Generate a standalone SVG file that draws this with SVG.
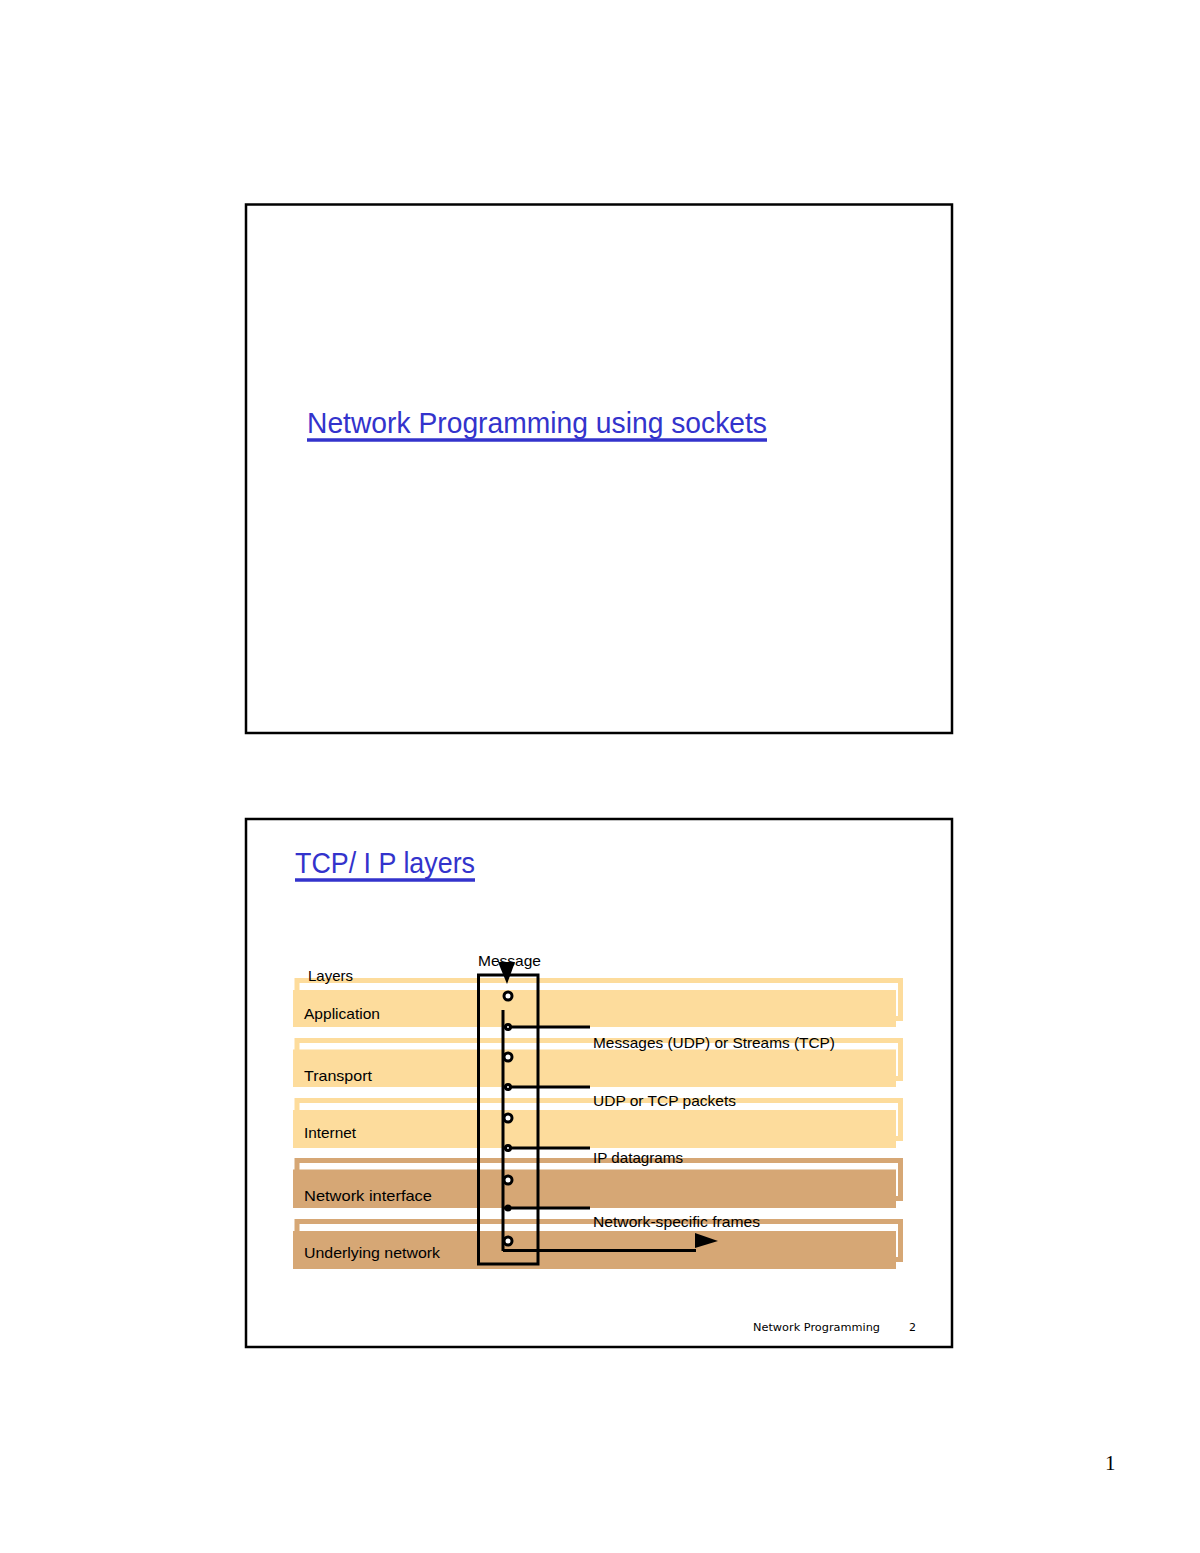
<svg xmlns="http://www.w3.org/2000/svg" width="1200" height="1553" viewBox="0 0 1200 1553">
<style>
.slide{fill:none;stroke:#000;stroke-width:2.5}
.title{font-family:"Liberation Sans",Arial,sans-serif;font-size:29px;fill:#3333cc}
.ul{stroke:#3333cc;stroke-width:3.5}
.lbl{font-family:"Liberation Sans",Arial,sans-serif;font-size:15px;fill:#000}
.outL{fill:#fff;stroke:#fddc9c;stroke-width:5}
.fillL{fill:#fddc9c}
.outD{fill:#fff;stroke:#d6a775;stroke-width:5}
.fillD{fill:#d6a775}
.ln{stroke:#000;stroke-width:3;fill:none}
.circ{fill:#fff;stroke:#000;stroke-width:3}
</style>
<rect width="1200" height="1553" fill="#fff"/>
<g id="slide1">
<rect class="slide" x="246" y="204.5" width="706" height="528.5"/>
<text class="title" x="307" y="433" textLength="460" lengthAdjust="spacingAndGlyphs">Network Programming using sockets</text>
<line class="ul" x1="307" y1="440" x2="767" y2="440"/>
</g>
<g id="slide2">
<rect class="slide" x="246" y="819" width="706" height="528"/>
<text class="title" x="295" y="873" textLength="180" lengthAdjust="spacingAndGlyphs">TCP/ I P layers</text>
<line class="ul" x1="295" y1="880" x2="475" y2="880"/>
</g>
<g id="band-application">
<rect class="outL" x="297" y="980.5" width="603.5" height="38"/>
<rect class="fillL" x="293" y="990" width="603" height="37"/>
<text class="lbl" x="304" y="1019" textLength="76" lengthAdjust="spacingAndGlyphs">Application</text>
</g>
<g id="band-transport">
<rect class="outL" x="297" y="1040.5" width="603.5" height="38"/>
<rect class="fillL" x="293" y="1049.5" width="603" height="37.5"/>
<text class="lbl" x="304" y="1081" textLength="68" lengthAdjust="spacingAndGlyphs">Transport</text>
</g>
<g id="band-internet">
<rect class="outL" x="297" y="1100.5" width="603.5" height="38"/>
<rect class="fillL" x="293" y="1110" width="603" height="38"/>
<text class="lbl" x="304" y="1138" textLength="52" lengthAdjust="spacingAndGlyphs">Internet</text>
</g>
<g id="band-network-interface">
<rect class="outD" x="297" y="1160.5" width="603.5" height="38"/>
<rect class="fillD" x="293" y="1169.5" width="603" height="38.5"/>
<text class="lbl" x="304" y="1201" textLength="128" lengthAdjust="spacingAndGlyphs">Network  interface</text>
</g>
<g id="band-underlying">
<rect class="outD" x="297" y="1221.5" width="603.5" height="38"/>
<rect class="fillD" x="293" y="1231" width="603" height="38"/>
<text class="lbl" x="304" y="1258" textLength="136" lengthAdjust="spacingAndGlyphs">Underlying network</text>
</g>
<text class="lbl" x="308" y="981" textLength="45" lengthAdjust="spacingAndGlyphs">Layers</text>
<g id="message-column">
<rect class="ln" x="478.5" y="975" width="59.5" height="289"/>
<text class="lbl" x="478" y="966" textLength="63" lengthAdjust="spacingAndGlyphs">Message</text>
</g>
<g id="connectors">
<polygon points="498,962 515,962 507,984" fill="#000"/>
<line class="ln" x1="503" y1="1010" x2="503" y2="1251"/>
<line class="ln" x1="503" y1="1027" x2="590" y2="1027"/>
<line class="ln" x1="503" y1="1087" x2="590" y2="1087"/>
<line class="ln" x1="503" y1="1148" x2="590" y2="1148"/>
<line class="ln" x1="503" y1="1208" x2="590" y2="1208"/>
<line class="ln" x1="503" y1="1250.5" x2="696" y2="1250.5"/>
<polygon points="695,1233 718,1241 695,1248" fill="#000"/>
<circle class="circ" cx="508" cy="996" r="4"/>
<circle class="circ" cx="508" cy="1057" r="4"/>
<circle class="circ" cx="508" cy="1118" r="4"/>
<circle class="circ" cx="508" cy="1180" r="4"/>
<circle class="circ" cx="508" cy="1241" r="4"/>
<circle class="circ" cx="508" cy="1027" r="2.5"/>
<circle class="circ" cx="508" cy="1087" r="2.5"/>
<circle class="circ" cx="508" cy="1148" r="2.5"/>
<circle cx="508" cy="1208" r="3.5" fill="#000"/>
</g>
<g id="labels">
<text class="lbl" x="593" y="1048" textLength="242" lengthAdjust="spacingAndGlyphs">Messages (UDP) or Streams (TCP)</text>
<text class="lbl" x="593" y="1106" textLength="143" lengthAdjust="spacingAndGlyphs">UDP or TCP packets</text>
<text class="lbl" x="593" y="1163" textLength="90" lengthAdjust="spacingAndGlyphs">IP datagrams</text>
<text class="lbl" x="593" y="1227" textLength="167" lengthAdjust="spacingAndGlyphs">Network-specific frames</text>
</g>
<g id="footer">
<text x="753" y="1331" font-family="'DejaVu Sans',sans-serif" font-size="11" textLength="127" lengthAdjust="spacingAndGlyphs">Network Programming</text>
<text x="909" y="1331" font-family="'DejaVu Sans',sans-serif" font-size="11">2</text>
<text x="1105" y="1470" font-family="'Liberation Serif',serif" font-size="21">1</text>
</g>
</svg>
